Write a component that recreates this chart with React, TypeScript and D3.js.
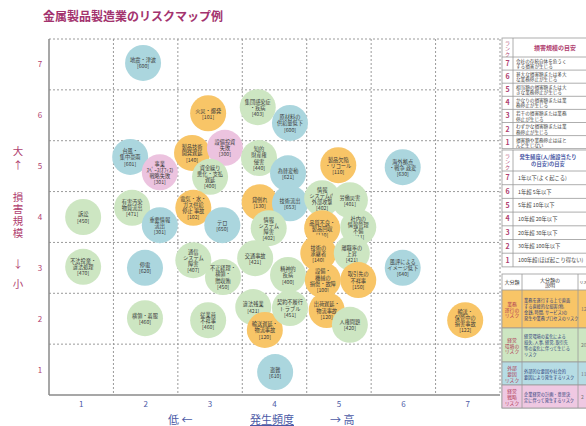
import React from 'react';
import * as d3 from 'd3';

// risk bubbles: label (lines split by \n), code, frequency (x), severity (y), category
const riskLabels = [
  '地震・津波', '火災・爆発', '集団感染症\n・疾病', '原材料の\n供給量低下', '台風・\n集中豪雨',
  '事業\nｽﾍﾟｰｽ(ｵﾌｨｽ)\n戦略失敗', '製品技術\n開発遅延', '設備投資\n失敗', '資金繰り\n悪化・支払\n遅延', '知的\n財産権\n侵害',
  '為替変動', '製品欠陥\n・リコール', '海外拠点\n・戦争 政変', '訴訟', '有害汚染\n物質流出',
  '重要情報\n流出', '電気・水・\nガス供給\n停止 事故', 'テロ', '貸倒れ', '技術流出',
  '情報\nシステムの\n外部攻撃', '労働災害', '情報\nシステム\n障害', '品質不良・\n製品回収', '社内の\n情報管理\n不備',
  '不法投棄・\n違法処理', '停電', '通信\nシステム\n障害', '不正経理・\n横領・\n贈収賄', '交通事故',
  '精神的\n疾病', '技術の\n承継者', '設備・\n機械の\n損傷・故障', '離職率の\n上昇', '取引先の\n不祥事',
  '風評による\nイメージ低下', '横領・着服', '従業員\n不祥事', '違法残業', '輸送遅延・\n物流事故',
  '契約不履行\nトラブル', '出荷遅延・\n物流事故', '人権問題', '輸送・\n保管中の\n損害事故', '盗難',
];
const riskCodes = [
  600, 101, 403, 600, 601,
  301, 140, 300, 400, 440,
  621, 110, 630, 450, 471,
  301, 102, 650, 130, 653,
  402, 401, 402, 110, 411,
  470, 620, 407, 450, 421,
  400, 140, 100, 421, 150,
  640, 460, 460, 421, 120,
  451, 120, 420, 122, 610,
];
const riskFreq = [
  1.96, 2.97, 3.74, 4.24, 1.76,
  2.22, 2.72, 3.23, 3.0, 3.76,
  4.21, 4.99, 5.99, 1.03, 1.79,
  2.22, 2.74, 3.19, 3.77, 4.24,
  4.74, 5.17, 3.91, 4.74, 5.3,
  1.03, 1.99, 2.74, 3.2, 3.7,
  4.21, 4.68, 4.75, 5.2, 5.3,
  5.99, 1.99, 2.97, 3.67, 3.85,
  4.24, 4.81, 5.17, 6.96, 4.01,
];
const riskSeverity = [
  7.03, 6.04, 6.16, 5.85, 5.18,
  4.88, 5.26, 5.36, 4.79, 5.16,
  4.86, 5.02, 4.98, 4.0, 4.18,
  3.84, 4.18, 3.84, 4.29, 4.27,
  4.37, 4.33, 3.78, 3.78, 3.8,
  3.02, 3.0, 3.15, 2.82, 3.19,
  2.86, 3.29, 2.76, 3.29, 2.76,
  3.0, 2.01, 1.97, 2.23, 1.78,
  2.21, 2.17, 1.88, 1.97, 0.95,
];
// o: 業務, g: 経営環境, b: 外部要因, p: 経営戦略
const riskCategory = [
  'b', 'o', 'g', 'b', 'b',
  'p', 'o', 'p', 'g', 'g',
  'b', 'o', 'b', 'g', 'g',
  'b', 'o', 'b', 'o', 'b',
  'g', 'g', 'g', 'o', 'g',
  'g', 'b', 'g', 'g', 'g',
  'g', 'o', 'o', 'g', 'o',
  'b', 'g', 'g', 'g', 'o',
  'g', 'o', 'g', 'o', 'b',
];

const ticks = [1, 2, 3, 4, 5, 6, 7];

const severityRankText = [
  '会社の存続自体を危うく\nする損害が生じる',
  '甚大な損害額または多大\nな業務停止が生じる',
  '相当額の損害額または大\nきな業務停止が生じる',
  'かなりの損害額または業\n務停止が生じる',
  '若干の損害額または業務\n停止が生じる',
  'わずかな損害額または業\n務停止が生じる',
  '損害額や業務停止はほと\nんど生じない',
];
const freqRankText = [
  '1年以下(よく起こる)', '1年超 5年以下', '5年超 10年以下', '10年超 20年以下',
  '20年超 30年以下', '30年超 100年以下', '100年超(ほぼ起こり得ない)',
];
const groupNames = ['業務\n遂行の\nリスク', '経営\n環境の\nリスク', '外部\n要因\nリスク', '経営\n戦略\nリスク'];
const groupDesc = [
  '業務を遂行する上で直面\nする直接的な損害(物,\n金銭, 時間, サービス)の\n発生や業務プロセスのリスク',
  '経営環境の変化による\n損失, 人事, 経営, 取引先\n等の変化に伴って生じる\nリスク',
  '外部的な要因や社会的\n要因により発生するリスク',
  '企業経営の計画・意思決\n定に伴って発生するリスク',
];
const groupCount = [12, 20, 11, 2];

const catColor: Record<string, string> = { o: '#f8c567', g: '#cde6c2', b: '#abd6de', p: '#ecc3df' };
const groupColor = ['#f8c567', '#cde6c2', '#b6dce4', '#efc8e2'];

const FONT = '"Noto Sans CJK JP", "Noto Sans", sans-serif';
const PINK = '#b0406f';
const BLUE = '#4b5aa6';

const Lines = ({ x, y, text, size, lh, color, anchor = 'middle', weight = 400 }: any) => {
  const lines = text.split('\n');
  const y0 = y - ((lines.length - 1) * lh) / 2;
  return (
    <text x={x} fontSize={size} fill={color} textAnchor={anchor} fontWeight={weight} fontFamily={FONT}>
      {lines.map((l: string, i: number) => (
        <tspan key={i} x={x} y={y0 + i * lh} dominantBaseline="central">{l}</tspan>
      ))}
    </text>
  );
};

export default function App() {
  const W = 586, H = 426;
  const x = d3.scaleLinear().domain([0.5, 7.5]).range([49, 500]);
  const y = d3.scaleLinear().domain([0.5, 7.5]).range([395, 39]);
  const r = 18;

  const t1Top = 38, t1Head = 19, t1Row = 13.1;
  const t2Top = 150, t2Head = 21, t2Row = 13.7;
  const t3Top = 274, t3Head = 16;
  const t3Rows = [38, 34, 23, 23];
  const tx0 = 502, tx1 = 600, rankW = 11;

  return (
    <div style={{ position: 'fixed', left: 0, top: 0 }}>
      <svg width={W} height={H} style={{ display: 'block', background: '#fff' }}>
        <text x={43} y={21} fontSize={12} fontWeight={700} fill="#a3336e" fontFamily={FONT}>
          金属製品製造業のリスクマップ例
        </text>

        {/* grid */}
        {d3.range(1, 8).map((i) => (
          <line key={'gx' + i} x1={x(i + 0.5)} x2={x(i + 0.5)} y1={y(7.5)} y2={y(0.5)}
            stroke="#9a9a9a" strokeDasharray="2,2" />
        ))}
        {d3.range(1, 8).map((i) => (
          <line key={'gy' + i} x1={x(0.5)} x2={x(7.5)} y1={y(i + 0.5)} y2={y(i + 0.5)}
            stroke="#9a9a9a" strokeDasharray="2,2" />
        ))}
        <line x1={x(0.5)} x2={x(0.5)} y1={y(7.5)} y2={y(0.5)} stroke="#8a8a8a" strokeWidth={1.5} />
        <line x1={x(0.5)} x2={x(7.5)} y1={y(0.5)} y2={y(0.5)} stroke="#8a8a8a" strokeWidth={1.5} />

        {/* ticks */}
        {ticks.map((t) => (
          <text key={'xt' + t} x={x(t)} y={407} fontSize={8} fill={BLUE} textAnchor="middle" fontFamily={FONT}>{t}</text>
        ))}
        {ticks.map((t) => (
          <text key={'yt' + t} x={40} y={y(t) + 3} fontSize={8} fill={PINK} textAnchor="middle" fontFamily={FONT}>{t}</text>
        ))}

        {/* axis titles */}
        <text x={168} y={424} fontSize={11} fill={BLUE} fontFamily={FONT}>低 ←</text>
        <text x={250} y={424} fontSize={11} fill={BLUE} fontFamily={FONT} textDecoration="underline">発生頻度</text>
        <text x={330} y={424} fontSize={11} fill={BLUE} fontFamily={FONT}>→  高</text>
        {['大', '↑'].map((c, i) => (
          <text key={'ya' + i} x={18} y={155 + i * 14} fontSize={10.5} fill={PINK} textAnchor="middle" fontFamily={FONT}>{c}</text>
        ))}
        <text x={18} y={192} fontSize={10.5} fill={PINK} fontFamily={FONT}
          style={{ writingMode: 'vertical-rl' }} letterSpacing={1.5}>損害規模</text>
        {['↓', '小'].map((c, i) => (
          <text key={'yc' + i} x={18} y={268 + i * 20} fontSize={10.5} fill={PINK} textAnchor="middle" fontFamily={FONT}>{c}</text>
        ))}

        {/* bubbles */}
        {riskLabels.map((lab, i) => {
          const cx = x(riskFreq[i]), cy = y(riskSeverity[i]);
          const text = lab + '\n[' + riskCodes[i] + ']';
          return (
            <g key={'b' + i}>
              <circle cx={cx} cy={cy} r={r} fill={catColor[riskCategory[i]]} />
              <Lines x={cx} y={cy} text={text} size={5.2} lh={6.1} color="#3a3a3a" />
            </g>
          );
        })}

        {/* table 1: severity */}
        <g>
          <rect x={tx0} y={t1Top} width={tx1 - tx0} height={t1Head + 7 * t1Row} fill="#fff" stroke="#999" strokeWidth={0.8} />
          <line x1={tx0 + rankW} x2={tx0 + rankW} y1={t1Top} y2={t1Top + t1Head + 7 * t1Row} stroke="#999" strokeWidth={0.8} />
          <Lines x={tx0 + rankW / 2} y={t1Top + t1Head / 2} text={'ラ\nン\nク'} size={5} lh={5.5} color={PINK} />
          <text x={555} y={t1Top + t1Head / 2 + 2} fontSize={6} fill={PINK} textAnchor="middle" fontFamily={FONT} fontWeight={700}>損害規模の目安</text>
          {severityRankText.map((s, i) => {
            const ry = t1Top + t1Head + i * t1Row;
            return (
              <g key={'t1' + i}>
                <line x1={tx0} x2={tx1} y1={ry} y2={ry} stroke="#999" strokeWidth={0.8} />
                <text x={tx0 + rankW / 2} y={ry + t1Row / 2 + 2.5} fontSize={7} fill={PINK} textAnchor="middle" fontFamily={FONT} fontWeight={700}>{7 - i}</text>
                <Lines x={tx0 + rankW + 3} y={ry + t1Row / 2} text={s} size={4.6} lh={5.2} color="#444" anchor="start" />
              </g>
            );
          })}
        </g>

        {/* table 2: frequency */}
        <g>
          <rect x={tx0} y={t2Top} width={tx1 - tx0} height={t2Head + 7 * t2Row} fill="#fff" stroke="#999" strokeWidth={0.8} />
          <line x1={tx0 + rankW} x2={tx0 + rankW} y1={t2Top} y2={t2Top + t2Head + 7 * t2Row} stroke="#999" strokeWidth={0.8} />
          <Lines x={tx0 + rankW / 2} y={t2Top + t2Head / 2} text={'ラ\nン\nク'} size={5} lh={5.5} color={PINK} />
          <Lines x={548} y={t2Top + t2Head / 2} text={'発生頻度(人/施設当たり\nの目安)の目安'} size={5.3} lh={6.5} color={BLUE} weight={700} />
          {freqRankText.map((s, i) => {
            const ry = t2Top + t2Head + i * t2Row;
            return (
              <g key={'t2' + i}>
                <line x1={tx0} x2={tx1} y1={ry} y2={ry} stroke="#999" strokeWidth={0.8} />
                <text x={tx0 + rankW / 2} y={ry + t2Row / 2 + 2.5} fontSize={7} fill={PINK} textAnchor="middle" fontFamily={FONT} fontWeight={700}>{7 - i}</text>
                <text x={tx0 + rankW + 5} y={ry + t2Row / 2 + 2} fontSize={5.3} fill="#444" fontFamily={FONT}>{s}</text>
              </g>
            );
          })}
        </g>

        {/* table 3: groups */}
        <g>
          {(() => {
            const c1 = 522, c2 = 578;
            let acc = t3Top + t3Head;
            const total = t3Head + d3.sum(t3Rows);
            return (
              <>
                <rect x={tx0} y={t3Top} width={tx1 - tx0} height={total} fill="#fff" stroke="#999" strokeWidth={0.8} />
                <text x={(tx0 + c1) / 2} y={t3Top + t3Head / 2 + 2} fontSize={5} fill="#333" textAnchor="middle" fontFamily={FONT}>大分類</text>
                <Lines x={(c1 + c2) / 2} y={t3Top + t3Head / 2} text={'大分類の\n説明'} size={5} lh={5.6} color="#333" />
                <text x={c2 + 1.5} y={t3Top + t3Head / 2 + 2} fontSize={3.8} fill="#333" fontFamily={FONT}>リス</text>
                {t3Rows.map((h, i) => {
                  const ry = acc;
                  acc += h;
                  return (
                    <g key={'t3' + i}>
                      <rect x={tx0} y={ry} width={tx1 - tx0} height={h} fill={groupColor[i]} stroke="#999" strokeWidth={0.8} />
                      <Lines x={(tx0 + c1) / 2} y={ry + h / 2} text={groupNames[i]} size={4.8} lh={5.6} color="#b03a55" />
                      <Lines x={c1 + 2} y={ry + h / 2} text={groupDesc[i]} size={4.2} lh={6} color="#2c3c7a" anchor="start" />
                      <text x={c2 + 3} y={ry + h / 2 + 2} fontSize={5} fill="#777" fontFamily={FONT}>{groupCount[i]}</text>
                    </g>
                  );
                })}
                <line x1={c1} x2={c1} y1={t3Top} y2={t3Top + total} stroke="#999" strokeWidth={0.8} />
                <line x1={c2} x2={c2} y1={t3Top} y2={t3Top + total} stroke="#999" strokeWidth={0.8} />
              </>
            );
          })()}
        </g>
      </svg>
    </div>
  );
}
